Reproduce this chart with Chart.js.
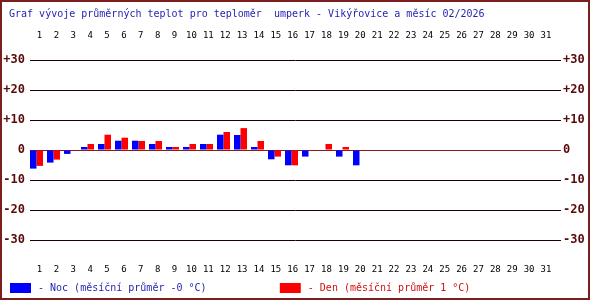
<!DOCTYPE html>
<html><head><meta charset="utf-8">
<script src="https://cdn.jsdelivr.net/npm/chart.js@4"></script>
<style>
html,body{margin:0;padding:0;background:#fff;}
#wrap{position:relative;width:590px;height:300px;}
#frame{position:absolute;left:0;top:0;width:590px;height:300px;box-sizing:border-box;border:2px solid #7a1e1e;pointer-events:none;}
canvas{position:absolute;left:0;top:0;}
</style></head><body>
<div id="wrap"><canvas id="c" width="590" height="300"></canvas><div id="frame"></div></div>
<script>
// ---- data ----
const days = [1,2,3,4,5,6,7,8,9,10,11,12,13,14,15,16,17,18,19,20,21,22,23,24,25,26,27,28,29,30,31];
const dayLabels = days.map(String);
const nightTemps = [-6.2,-4.2,-1.3,1,2,3.1,3.1,2,1,1,2,5.1,5,1,-3.1,-5.1,-2.2,0,-2.2,-5.1];
const dayTemps   = [-5.3,-3.2,0,2,5.1,4.1,3,3,1,2,2,6,7.3,3,-2.2,-5.1,0,2,1,0];
const seriesNames = ['Noc','Den'];
const monthlyAvg = ['-0','1'];
const yTicks = [-30,-20,-10,0,10,20,30];
const yTickLabels = ['-30','-20','-10','0','+10','+20','+30'];
const titleText = 'Graf vývoje průměrných teplot pro teploměr  umperk - Vikýřovice a měsíc 02/2026';

const mono = "'DejaVu Sans Mono', monospace";
const toPoints = arr => days.map((d,i) => ({x: d, y: i < arr.length ? arr[i] : null}));

const legendPad = '\u00a0'.repeat(11);
const legendTexts = [
  '- ' + seriesNames[0] + ' (měsíční průměr ' + monthlyAvg[0] + ' °C)' + legendPad,
  '- ' + seriesNames[1] + ' (měsíční průměr ' + monthlyAvg[1] + ' °C)'
];
const legendColors = ['#1f1fb0', '#d01010'];

const dayAxis = (pos, pad) => ({
  type: 'linear', position: pos, min: 0.437, max: 31.89, offset: false,
  grid: {display: false, drawTicks: false, offset: false}, border: {display: false},
  ticks: {
    stepSize: 1, autoSkip: false, includeBounds: false, padding: pad, maxRotation: 0,
    color: '#000', font: {family: mono, size: 9},
    callback: v => (Number.isInteger(v) && v >= 1 && v <= days.length) ? dayLabels[v-1] : ''
  },
  afterFit: s => { s.height = pos === 'top' ? 38 : 36; }
});
const tempAxis = (pos) => ({
  type: 'linear', position: pos, min: -30, max: 30,
  grid: {
    display: pos === 'left', drawTicks: false, lineWidth: 1,
    color: c => (c.tick && c.tick.value === 0) ? '#8b1a1a' : '#1a0000'
  },
  border: {display: false},
  afterBuildTicks: s => { s.ticks = yTicks.map(v => ({value: v})); },
  ticks: {
    padding: pos === 'left' ? 5 : 2,
    color: '#5a0a0a', font: {family: mono, size: 12, weight: 'bold'},
    callback: v => yTickLabels[yTicks.indexOf(v)]
  },
  afterFit: s => { s.width = pos === 'left' ? 27 : 29; }
});

new Chart(document.getElementById('c'), {
  type: 'bar',
  data: {
    datasets: [
      {label: seriesNames[0], data: toPoints(nightTemps), backgroundColor: '#0000ff', borderWidth: 0, xAxisID: 'x', yAxisID: 'y'},
      {label: seriesNames[1], data: toPoints(dayTemps), backgroundColor: '#ff0000', borderWidth: 0, xAxisID: 'x', yAxisID: 'y'}
    ]
  },
  options: {
    responsive: false, animation: false, devicePixelRatio: 1,
    layout: {padding: {left: 3, right: 0, top: 0, bottom: -5}},
    datasets: {bar: {categoryPercentage: 13/17, barPercentage: 1, grouped: true}},
    scales: {
      x: {type: 'linear', display: false, offset: false, grid: {offset: false}, min: 0.6176, max: 31.853},
      xt: dayAxis('top', 19),
      xb: dayAxis('bottom', 24),
      y: tempAxis('left'),
      y2: tempAxis('right')
    },
    plugins: {
      tooltip: {enabled: false},
      title: {
        display: true, text: '\u00a0' + titleText, align: 'start', color: '#1f1fb0',
        font: {family: mono, size: 10, weight: 'normal', lineHeight: 1.2},
        padding: {top: 8, bottom: 2}
      },
      legend: {
        display: true, position: 'bottom', align: 'start',
        labels: {
          boxWidth: 25, boxHeight: 14, padding: 5,
          font: {family: mono, size: 10},
          generateLabels: chart => chart.data.datasets.map((ds, i) => ({
            text: legendTexts[i], fillStyle: ds.backgroundColor, strokeStyle: '#ffffff',
            lineWidth: 4, fontColor: legendColors[i], hidden: false, datasetIndex: i
          }))
        }
      }
    }
  }
});
</script>
</body></html>
